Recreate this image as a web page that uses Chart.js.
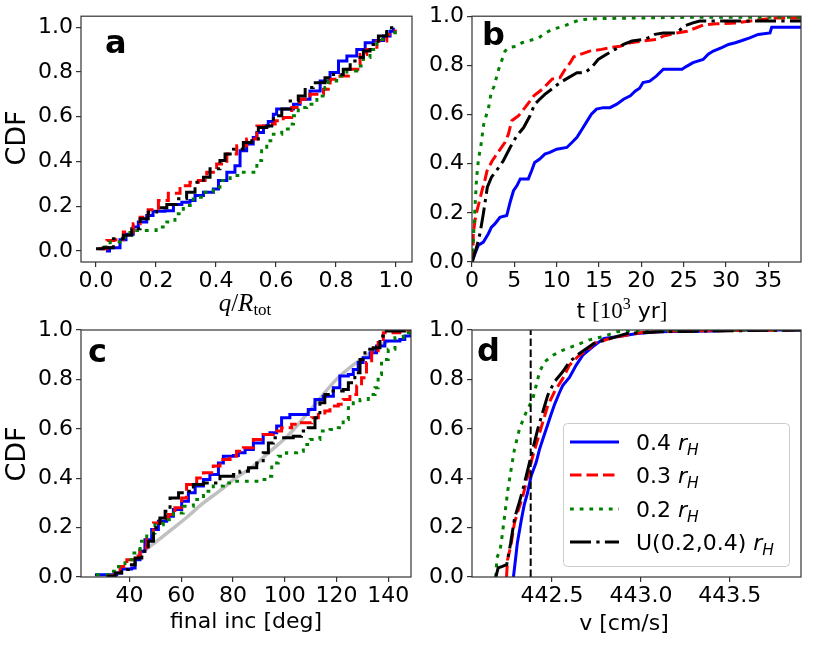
<!DOCTYPE html>
<html>
<head>
<meta charset="utf-8">
<script src="https://cdn.jsdelivr.net/npm/chart.js@4.4.1/dist/chart.umd.min.js"></script>
<style>
  html, body { margin: 0; padding: 0; background: #fff; }
  #wrap { position: relative; width: 817px; height: 647px; }
  canvas { position: absolute; left: 0; top: 0; }
</style>
</head>
<body>
<div id="wrap">
  <canvas id="pa" width="817" height="647"></canvas>
  <canvas id="pb" width="817" height="647"></canvas>
  <canvas id="pc" width="817" height="647"></canvas>
  <canvas id="pd" width="817" height="647"></canvas>
</div>
<script>
// tick labels
const yTicks = [0, 0.2, 0.4, 0.6, 0.8, 1.0];
const aXTicks = [0, 0.2, 0.4, 0.6, 0.8, 1.0];
const bXTicks = [0, 5, 10, 15, 20, 25, 30, 35];
const cXTicks = [40, 60, 80, 100, 120, 140];
const dXTicks = [442.5, 443.0, 443.5];
const legendLabels = ["0.4", "0.3", "0.2", "U(0.2,0.4)"];

// panel a: q / R_tot
const aBlueX = [0.033, 0.045, 0.08, 0.1, 0.124, 0.141, 0.169, 0.19, 0.23, 0.258, 0.286, 0.313, 0.33, 0.358, 0.391, 0.408, 0.436, 0.463, 0.48, 0.502, 0.524, 0.536, 0.558, 0.574, 0.591, 0.602, 0.636, 0.658, 0.68, 0.713, 0.747, 0.78, 0.808, 0.836, 0.869, 0.897, 0.924, 0.958, 0.98, 0.991];
const aBlueY = [0, 0.015, 0.05, 0.075, 0.107, 0.13, 0.159, 0.178, 0.18, 0.208, 0.218, 0.226, 0.248, 0.263, 0.277, 0.315, 0.352, 0.381, 0.448, 0.478, 0.507, 0.53, 0.559, 0.579, 0.611, 0.634, 0.634, 0.656, 0.678, 0.715, 0.76, 0.797, 0.849, 0.871, 0.9, 0.93, 0.94, 0.96, 0.982, 0.997];
const aRedX = [0.008, 0.036, 0.06, 0.091, 0.124, 0.147, 0.174, 0.208, 0.241, 0.28, 0.313, 0.341, 0.369, 0.402, 0.436, 0.469, 0.502, 0.536, 0.569, 0.597, 0.624, 0.652, 0.68, 0.713, 0.758, 0.78, 0.813, 0.841, 0.88, 0.902, 0.936, 0.969, 0.997];
const aRedY = [0.01, 0.047, 0.05, 0.085, 0.122, 0.151, 0.184, 0.226, 0.258, 0.292, 0.307, 0.315, 0.352, 0.389, 0.433, 0.47, 0.5, 0.559, 0.567, 0.582, 0.596, 0.641, 0.678, 0.7, 0.723, 0.767, 0.782, 0.812, 0.878, 0.9, 0.938, 0.967, 0.99];
const aGreenX = [0.024, 0.047, 0.08, 0.113, 0.136, 0.2, 0.213, 0.236, 0.263, 0.291, 0.324, 0.358, 0.391, 0.413, 0.447, 0.48, 0.519, 0.536, 0.552, 0.569, 0.591, 0.619, 0.647, 0.658, 0.674, 0.702, 0.736, 0.763, 0.774, 0.802, 0.836, 0.869, 0.891, 0.913, 0.936, 0.969, 0.997];
const aGreenY = [0.018, 0.04, 0.062, 0.092, 0.092, 0.095, 0.107, 0.13, 0.166, 0.203, 0.24, 0.263, 0.285, 0.315, 0.337, 0.352, 0.352, 0.404, 0.448, 0.493, 0.522, 0.545, 0.567, 0.604, 0.641, 0.656, 0.693, 0.73, 0.76, 0.782, 0.804, 0.826, 0.864, 0.9, 0.945, 0.975, 0.99];
const aBlackX = [0.0, 0.024, 0.058, 0.091, 0.119, 0.147, 0.174, 0.202, 0.236, 0.269, 0.302, 0.33, 0.358, 0.38, 0.413, 0.43, 0.458, 0.491, 0.519, 0.541, 0.569, 0.591, 0.619, 0.647, 0.674, 0.697, 0.724, 0.763, 0.791, 0.824, 0.847, 0.869, 0.891, 0.913, 0.941, 0.969, 0.997];
const aBlackY = [0.01, 0.015, 0.055, 0.07, 0.1, 0.144, 0.174, 0.193, 0.208, 0.233, 0.263, 0.307, 0.33, 0.367, 0.404, 0.433, 0.455, 0.485, 0.5, 0.552, 0.559, 0.604, 0.634, 0.67, 0.693, 0.73, 0.752, 0.774, 0.789, 0.812, 0.849, 0.864, 0.893, 0.923, 0.96, 0.997, 1.0];

// panel b: t [10^3 yr]
const bBlueX = [0, 0.35, 0.75, 1.34, 1.93, 2.3, 2.7, 3.3, 4.1, 4.5, 4.9, 5.3, 5.7, 6.65, 7.05, 7.4, 8.0, 8.6, 9.2, 10.0, 11.2, 11.8, 12.4, 13.0, 13.5, 14.1, 14.7, 15.5, 16.3, 17.1, 17.9, 18.7, 19.3, 19.8, 20.2, 21.0, 21.8, 22.6, 24.8, 25.4, 26.1, 27.3, 27.9, 28.5, 29.5, 30.3, 31.1, 31.9, 32.8, 33.8, 35.2, 35.4, 38.9];
const bBlueY = [0, 0.034, 0.068, 0.081, 0.115, 0.142, 0.155, 0.182, 0.189, 0.243, 0.29, 0.31, 0.338, 0.338, 0.372, 0.405, 0.419, 0.439, 0.446, 0.459, 0.466, 0.486, 0.507, 0.54, 0.568, 0.601, 0.622, 0.628, 0.628, 0.642, 0.662, 0.676, 0.696, 0.707, 0.73, 0.736, 0.757, 0.784, 0.784, 0.797, 0.811, 0.824, 0.845, 0.858, 0.872, 0.885, 0.892, 0.901, 0.912, 0.926, 0.932, 0.955, 0.955];
const bRedX = [0.08, 0.16, 0.35, 0.6, 0.75, 1.18, 1.5, 1.77, 2.36, 3.15, 3.9, 4.3, 4.7, 5.5, 6.3, 7.3, 8.3, 9.45, 10.4, 11.0, 11.6, 12.0, 12.8, 13.9, 15.3, 16.3, 17.5, 18.7, 20.2, 21.8, 22.6, 24.2, 25.4, 26.5, 27.3, 28.9, 31.3, 34.0, 36.0, 38.9];
const bRedY = [0, 0.115, 0.169, 0.21, 0.23, 0.29, 0.33, 0.37, 0.41, 0.45, 0.487, 0.52, 0.575, 0.595, 0.63, 0.676, 0.703, 0.744, 0.75, 0.784, 0.811, 0.834, 0.845, 0.858, 0.865, 0.872, 0.878, 0.892, 0.899, 0.905, 0.919, 0.932, 0.939, 0.953, 0.964, 0.969, 0.973, 0.986, 0.993, 0.993];
const bGreenX = [0, 0.16, 0.35, 0.55, 0.79, 1.0, 1.38, 1.97, 2.3, 2.56, 3.15, 3.9, 4.3, 5.3, 5.9, 7.9, 8.4, 9.45, 10.8, 11.8, 12.8, 14.7, 20.2, 26.5, 38.9];
const bGreenY = [0, 0.088, 0.223, 0.345, 0.426, 0.46, 0.56, 0.63, 0.696, 0.71, 0.784, 0.858, 0.872, 0.878, 0.892, 0.912, 0.926, 0.946, 0.959, 0.973, 0.986, 0.99, 0.993, 0.996, 0.996];
const bBlackX = [0, 0.55, 0.94, 1.34, 1.81, 2.3, 2.9, 3.7, 4.5, 5.3, 6.1, 6.85, 7.4, 8.0, 8.6, 9.4, 10.4, 11.4, 12.4, 13.3, 14.1, 14.9, 15.9, 16.9, 17.9, 18.9, 20.2, 20.8, 21.6, 22.6, 24.2, 25.0, 26.1, 26.9, 38.9];
const bBlackY = [0, 0.061, 0.115, 0.196, 0.304, 0.345, 0.372, 0.412, 0.466, 0.514, 0.547, 0.595, 0.642, 0.662, 0.682, 0.703, 0.73, 0.75, 0.77, 0.77, 0.79, 0.824, 0.845, 0.865, 0.885, 0.899, 0.905, 0.912, 0.926, 0.932, 0.932, 0.959, 0.973, 0.98, 0.98];

// panel c: final inc [deg]
const cBlueX = [26.7, 32.5, 35.1, 37.0, 40.9, 42.2, 44.1, 46.0, 48.6, 51.2, 54.4, 57.0, 60.2, 62.8, 65.4, 68.6, 71.1, 74.4, 76.3, 80.2, 82.1, 84.7, 87.9, 91.7, 94.3, 96.9, 98.8, 102, 107.2, 109.1, 111.7, 114.9, 118.8, 121.3, 124.6, 126.5, 128.4, 130.3, 133, 135.5, 138.7, 144.5, 146.4, 148.7];
const cBlueY = [0.009, 0.009, 0.016, 0.032, 0.036, 0.07, 0.104, 0.151, 0.192, 0.226, 0.246, 0.273, 0.307, 0.341, 0.368, 0.395, 0.415, 0.462, 0.489, 0.492, 0.503, 0.516, 0.543, 0.577, 0.584, 0.611, 0.645, 0.658, 0.658, 0.678, 0.719, 0.732, 0.766, 0.814, 0.82, 0.84, 0.868, 0.888, 0.908, 0.935, 0.955, 0.962, 0.976, 0.99];
const cRedX = [31.2, 34.5, 36.4, 39, 41.5, 44.1, 46.7, 49.3, 51.8, 55.1, 57.6, 60.2, 62.1, 66, 68.6, 72.4, 75, 78.9, 81.4, 84, 87.9, 91.7, 95.6, 98.8, 102.7, 106.5, 110.4, 113, 115.5, 117.5, 120.7, 122.6, 125.2, 127.8, 129.7, 131.6, 133.6, 136.1, 138.1, 144.5, 148.8];
const cRedY = [0.005, 0.023, 0.043, 0.07, 0.084, 0.118, 0.151, 0.219, 0.239, 0.253, 0.28, 0.32, 0.374, 0.401, 0.422, 0.449, 0.476, 0.489, 0.509, 0.523, 0.557, 0.577, 0.591, 0.604, 0.618, 0.624, 0.645, 0.658, 0.672, 0.692, 0.699, 0.719, 0.739, 0.773, 0.807, 0.868, 0.908, 0.949, 0.989, 0.996, 1.0];
const cGreenX = [27.1, 32.5, 35.8, 38.3, 40.9, 44.1, 46.7, 49.9, 53.1, 57, 60.8, 64.7, 68.6, 72.4, 76.3, 80.2, 85.3, 90.5, 93, 95, 97.5, 100.7, 104.6, 107.2, 109.8, 113.6, 117.5, 120.7, 122.6, 124.6, 126.5, 129.1, 132.3, 134.9, 136.1, 137.4, 140, 142.6, 145.8, 148.8];
const cGreenY = [0.009, 0.023, 0.043, 0.07, 0.097, 0.145, 0.178, 0.212, 0.232, 0.259, 0.286, 0.314, 0.347, 0.368, 0.381, 0.388, 0.388, 0.395, 0.408, 0.462, 0.489, 0.503, 0.509, 0.536, 0.557, 0.591, 0.597, 0.604, 0.638, 0.685, 0.705, 0.719, 0.739, 0.766, 0.82, 0.881, 0.922, 0.969, 0.989, 1.0];
const cBlackX = [31.2, 34.5, 37, 39.6, 42.2, 44.8, 47.3, 49.3, 51.8, 53.8, 55.7, 59, 62.1, 64.7, 68.6, 72.4, 75, 80.2, 82.7, 86, 89.2, 91.7, 93.7, 95.6, 99.5, 103.3, 106.5, 109.1, 111.7, 113.6, 115.5, 118.1, 122.6, 124.6, 127.1, 129.1, 131, 134.2, 136.8, 138.1, 148.8];
const cBlackY = [0.003, 0.016, 0.03, 0.05, 0.077, 0.104, 0.145, 0.199, 0.239, 0.266, 0.32, 0.341, 0.347, 0.374, 0.381, 0.381, 0.408, 0.415, 0.428, 0.442, 0.462, 0.503, 0.543, 0.564, 0.564, 0.57, 0.591, 0.604, 0.645, 0.705, 0.739, 0.753, 0.759, 0.786, 0.827, 0.881, 0.922, 0.928, 0.976, 0.996, 1.0];
const cGrayX = [43, 50, 56, 62, 68, 75, 81, 88, 94, 101, 107, 113, 120, 126, 132, 137, 140];
const cGrayY = [0.085, 0.14, 0.19, 0.24, 0.295, 0.35, 0.4, 0.45, 0.505, 0.57, 0.64, 0.715, 0.8, 0.855, 0.9, 0.938, 0.955];

// panel d: v [cm/s]
const dBlueX = [442.283, 442.296, 442.305, 442.327, 442.343, 442.362, 442.383, 442.411, 442.43, 442.455, 442.474, 442.493, 442.515, 442.539, 442.56, 442.598, 442.636, 442.673, 442.73, 442.792, 442.866, 442.979, 443.09, 443.39, 443.577, 443.9];
const dBlueY = [0, 0.08, 0.138, 0.23, 0.29, 0.34, 0.41, 0.464, 0.518, 0.573, 0.613, 0.655, 0.7, 0.742, 0.775, 0.808, 0.858, 0.898, 0.933, 0.966, 0.973, 0.986, 0.993, 0.996, 1.0, 1.0];
const dRedX = [442.244, 442.25, 442.268, 442.289, 442.31, 442.336, 442.364, 442.392, 442.42, 442.448, 442.476, 442.513, 442.56, 442.598, 442.654, 442.71, 442.736, 442.829, 442.922, 443.016, 443.203, 443.9];
const dRedY = [0, 0.07, 0.125, 0.22, 0.27, 0.328, 0.41, 0.49, 0.558, 0.627, 0.694, 0.749, 0.803, 0.858, 0.898, 0.925, 0.946, 0.966, 0.98, 0.991, 0.996, 1.0];
const dGreenX = [442.184, 442.19, 442.208, 442.214, 442.233, 442.252, 442.27, 442.289, 442.317, 442.355, 442.392, 442.411, 442.43, 442.458, 442.505, 442.56, 442.636, 442.71, 442.785, 442.866, 443.016, 443.9];
const dGreenY = [0, 0.077, 0.111, 0.136, 0.245, 0.354, 0.436, 0.518, 0.6, 0.668, 0.722, 0.776, 0.831, 0.871, 0.898, 0.918, 0.939, 0.96, 0.973, 0.993, 0.999, 1.0];
const dBlackX = [442.184, 442.197, 442.221, 442.245, 442.267, 442.29, 442.315, 442.336, 442.364, 442.392, 442.42, 442.448, 442.476, 442.513, 442.56, 442.598, 442.654, 442.736, 442.829, 442.922, 443.109, 443.39, 443.9];
const dBlackY = [0, 0.037, 0.043, 0.05, 0.136, 0.24, 0.3, 0.354, 0.436, 0.518, 0.6, 0.668, 0.736, 0.79, 0.831, 0.871, 0.905, 0.946, 0.966, 0.986, 0.993, 0.996, 1.0];
const dMarkX = 442.38;

const FONT = '"DejaVu Sans", sans-serif';
const SERIF = '"Liberation Serif", serif';

const pts = (xs, ys) => xs.map((x, i) => ({ x: x, y: ys[i] }));

const styles = {
  blue:  { borderColor: "#0000ff", borderDash: [] },
  red:   { borderColor: "#ff0000", borderDash: [11.5, 5] },
  green: { borderColor: "#008000", borderDash: [3.8, 5.9] },
  black: { borderColor: "#000000", borderDash: [21, 5.3, 3.3, 5.3] },
};
const drawOrder = { blue: 4, red: 3, green: 2, black: 1 };

function cdf(name, xs, ys, stepped) {
  return Object.assign({
    key: name, data: pts(xs, ys), showLine: true, stepped: stepped, borderWidth: 3,
    pointRadius: 0, fill: false, order: drawOrder[name], tension: 0,
  }, styles[name]);
}

function scaleX(min, max, ticks, dec) {
  return {
    type: "linear", min: min, max: max,
    afterBuildTicks: (s) => { s.ticks = ticks.map((v) => ({ value: v })); },
    afterFit: (s) => { s.height = 60; },
    grid: { drawOnChartArea: false, drawTicks: true, tickLength: 5, color: "#333", lineWidth: 1.2 },
    border: { display: false },
    ticks: { autoSkip: false, maxRotation: 0, padding: 1, color: "#000",
             font: { family: FONT, size: 22 }, callback: (v) => Number(v).toFixed(dec) },
  };
}

function scaleY(min, max, width) {
  return {
    type: "linear", min: min, max: max,
    afterBuildTicks: (s) => { s.ticks = yTicks.map((v) => ({ value: v })); },
    afterFit: (s) => { s.width = width; },
    grid: { drawOnChartArea: false, drawTicks: true, tickLength: 5, color: "#333", lineWidth: 1.2 },
    border: { display: false },
    ticks: { autoSkip: false, padding: 3, color: "#000",
             font: { family: FONT, size: 22 }, callback: (v) => Number(v).toFixed(1) },
  };
}

// mixed-font text, drawn piece by piece
function drawRuns(ctx, runs, x, y, align) {
  let w = 0;
  runs.forEach((r) => { ctx.font = r.font; r.w = ctx.measureText(r.text).width; w += r.w; });
  let cx = align === "center" ? x - w / 2 : x;
  ctx.textAlign = "left";
  ctx.textBaseline = "alphabetic";
  runs.forEach((r) => { ctx.font = r.font; ctx.fillText(r.text, cx, y + (r.dy || 0)); cx += r.w; });
}

const sans = (s) => s + "px " + FONT;
const deco = {
  pa: { letter: "a", at: [105, 53], cdf: [18, 138], xAt: [245, 311],
        xTitle: [{ text: "q", font: "italic 25px " + SERIF }, { text: "/", font: "25px " + SERIF },
                 { text: "R", font: "italic 25px " + SERIF }, { text: "tot", font: "17px " + SERIF, dy: 4 }] },
  pb: { letter: "b", at: [482, 45], xAt: [622, 318],
        xTitle: [{ text: "t ", font: sans(22) }, { text: "[10", font: "23px " + SERIF },
                 { text: "3", font: "16px " + SERIF, dy: -9 }, { text: " yr", font: sans(22) },
                 { text: "]", font: "23px " + SERIF }] },
  pc: { letter: "c", at: [88, 362], cdf: [18, 454], xAt: [246, 628],
        xTitle: [{ text: "final inc [deg]", font: sans(22) }] },
  pd: { letter: "d", at: [477, 361], xAt: [624, 630], legend: true,
        xTitle: [{ text: "v [cm/s]", font: sans(22) }] },
};

function drawLegend(ctx, chart) {
  const rows = [442, 475, 509, 542];
  const keys = ["blue", "red", "green", "black"];
  ctx.save();
  ctx.beginPath();
  ctx.roundRect(563.5, 423.5, 226, 143, 4);
  ctx.fillStyle = "rgba(255,255,255,0.8)";
  ctx.fill();
  ctx.strokeStyle = "#cccccc";
  ctx.lineWidth = 1;
  ctx.stroke();
  keys.forEach((k, i) => {
    const ds = chart.data.datasets.find((d) => d.key === k);
    ctx.beginPath();
    ctx.setLineDash(ds.borderDash);
    ctx.lineWidth = ds.borderWidth;
    ctx.strokeStyle = ds.borderColor;
    ctx.moveTo(570, rows[i]);
    ctx.lineTo(619, rows[i]);
    ctx.stroke();
    ctx.setLineDash([]);
    ctx.fillStyle = "#000";
    drawRuns(ctx, [{ text: legendLabels[i] + " ", font: sans(22) },
                   { text: "r", font: "italic " + sans(22) },
                   { text: "H", font: "italic " + sans(15.5), dy: 4.5 }], 636, rows[i] + 8, "left");
  });
  ctx.restore();
}

const decoPlugin = {
  id: "deco",
  afterDraw(chart) {
    const o = deco[chart.canvas.id];
    const ctx = chart.ctx, a = chart.chartArea;
    ctx.save();
    if (o.legend) drawLegend(ctx, chart);
    ctx.strokeStyle = "#333";
    ctx.lineWidth = 1.2;
    ctx.setLineDash([]);
    ctx.strokeRect(a.left, a.top, a.right - a.left, a.bottom - a.top);
    ctx.fillStyle = "#000";
    ctx.font = "bold 32px " + FONT;
    ctx.textAlign = "left";
    ctx.textBaseline = "alphabetic";
    ctx.fillText(o.letter, o.at[0], o.at[1]);
    if (o.cdf) {
      ctx.save();
      ctx.translate(o.cdf[0], o.cdf[1]);
      ctx.rotate(-Math.PI / 2);
      ctx.font = sans(27);
      ctx.textAlign = "center";
      ctx.textBaseline = "middle";
      ctx.fillText("CDF", 0, 0);
      ctx.restore();
    }
    drawRuns(ctx, o.xTitle, o.xAt[0], o.xAt[1], "center");
    ctx.restore();
  },
};

function panel(id, datasets, xs, ys, padding) {
  return new Chart(document.getElementById(id), {
    type: "scatter",
    data: { datasets: datasets },
    options: {
      responsive: false, animation: false, devicePixelRatio: 1,
      layout: { padding: padding },
      plugins: { legend: { display: false }, tooltip: { enabled: false } },
      scales: { x: xs, y: ys },
    },
    plugins: [decoPlugin],
  });
}

panel("pa", [
  cdf("blue", aBlueX, aBlueY, true),
  cdf("red", aRedX, aRedY, true),
  cdf("green", aGreenX, aGreenY, true),
  cdf("black", aBlackX, aBlackY, true),
], scaleX(-0.05, 1.053, aXTicks, 1), scaleY(-0.049, 1.049, 81), { left: 0, top: 15, right: 405, bottom: 325 });

panel("pb", [
  cdf("blue", bBlueX, bBlueY, false),
  cdf("red", bRedX, bRedY, false),
  cdf("green", bGreenX, bGreenY, false),
  cdf("black", bBlackX, bBlackY, false),
], scaleX(0, 38.86, bXTicks, 0), scaleY(0, 1, 60), { left: 412, top: 15, right: 16, bottom: 325 });

panel("pc", [
  { data: pts(cGrayX, cGrayY), showLine: true, borderColor: "#c0c0c0", borderWidth: 3.5,
    pointRadius: 0, tension: 0.4, order: 5 },
  cdf("blue", cBlueX, cBlueY, true),
  cdf("red", cRedX, cRedY, true),
  cdf("green", cGreenX, cGreenY, true),
  cdf("black", cBlackX, cBlackY, true),
], scaleX(21.3, 148.8, cXTicks, 0), scaleY(0, 1, 81), { left: 0, top: 330, right: 406, bottom: 10 });

panel("pd", [
  cdf("blue", dBlueX, dBlueY, false),
  cdf("red", dRedX, dRedY, false),
  cdf("green", dGreenX, dGreenY, false),
  cdf("black", dBlackX, dBlackY, false),
  { data: [{ x: dMarkX, y: 0 }, { x: dMarkX, y: 1 }], showLine: true, borderColor: "#000",
    borderWidth: 2, borderDash: [7.5, 3.5], pointRadius: 0, order: 0 },
], scaleX(442.05, 443.9, dXTicks, 1), scaleY(0, 1, 60), { left: 412, top: 330, right: 16, bottom: 10 });
</script>
</body>
</html>
